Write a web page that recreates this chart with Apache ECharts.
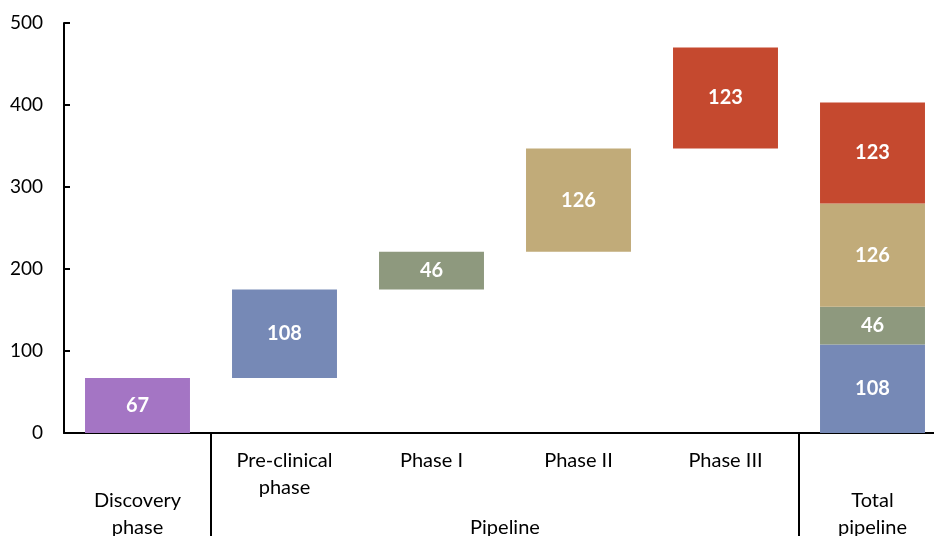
<!DOCTYPE html>
<html>
<head>
<meta charset="utf-8">
<script src="https://cdn.jsdelivr.net/npm/echarts@6/dist/echarts.min.js"></script>
<style>
  html, body { margin: 0; padding: 0; background: #ffffff; }
  #chart { width: 934px; height: 536px; }
</style>
</head>
<body>
<div id="chart"></div>
<script>
// Drug development pipeline: number of compounds per stage
const categories = ['Discovery\nphase', 'Pre-clinical\nphase', 'Phase I', 'Phase II', 'Phase III', 'Total\npipeline'];
// 1 = label directly under the axis, 2 = label on the lower row
const labelRow = [2, 1, 1, 1, 1, 2];
const groupLabel = 'Pipeline';

const discovery = 67;
const stageNames = ['Pre-clinical', 'Phase I', 'Phase II', 'Phase III'];
const stageValues = [108, 46, 126, 123];
const stageColors = ['#7689b6', '#8e997e', '#c1ab79', '#c5492f'];
const discoveryColor = '#a475c4';
const yTicks = { min: 0, max: 500, interval: 100 };

const FONT = 'Lato';
const n = categories.length;
const totalIdx = n - 1;

// invisible offsets that lift each floating bar to its running total
const base = new Array(n).fill(0);
let running = discovery;
stageValues.forEach((v, i) => { base[i + 1] = running; running += v; });
base[0] = 0;
base[totalIdx] = 0;

const labelStyle = {
  show: true,
  position: 'inside',
  color: '#ffffff',
  fontFamily: FONT,
  fontWeight: 'bold',
  fontSize: 20
};

const series = [
  {
    name: 'base', type: 'bar', stack: 'w', barCategoryGap: '28.6%',
    itemStyle: { color: 'transparent' }, silent: true,
    data: base
  },
  {
    name: 'Discovery', type: 'bar', stack: 'w',
    itemStyle: { color: discoveryColor },
    label: labelStyle,
    data: categories.map((c, i) => (i === 0 ? discovery : '-'))
  }
];
stageValues.forEach((v, s) => {
  series.push({
    name: stageNames[s], type: 'bar', stack: 'w',
    itemStyle: { color: stageColors[s] },
    label: labelStyle,
    data: categories.map((c, i) => (i === s + 1 || i === totalIdx ? v : '-'))
  });
});

const axisText = { fontFamily: FONT, fontSize: 20, color: '#000000', lineHeight: 27 };

const chart = echarts.init(document.getElementById('chart'), null, { renderer: 'canvas' });
chart.setOption({
  animation: false,
  grid: { left: 64, top: 23, width: 882, height: 410, containLabel: false, outerBoundsMode: 'none' },
  xAxis: [
    {
      type: 'category', data: categories, position: 'bottom',
      axisLine: { show: true, lineStyle: { color: '#000', width: 2 } },
      axisTick: {
        show: true, length: 110, inside: false,
        interval: (idx) => idx === 1 || idx === totalIdx,
        lineStyle: { color: '#000', width: 2 }
      },
      axisLabel: Object.assign({
        interval: 0, margin: 14,
        formatter: (v, i) => (labelRow[i] === 1 ? v : '')
      }, axisText),
      splitLine: { show: false }
    },
    {
      type: 'category', data: categories, position: 'bottom',
      axisLine: { show: false }, axisTick: { show: false },
      axisLabel: Object.assign({
        interval: 0, margin: 54,
        formatter: (v, i) => (labelRow[i] === 2 ? v : '')
      }, axisText),
      splitLine: { show: false }
    },
    {
      type: 'value', min: 0, max: n, interval: 3, position: 'bottom',
      axisLine: { show: false }, axisTick: { show: false },
      axisLabel: Object.assign({
        margin: 81, showMinLabel: true, showMaxLabel: false,
        formatter: (v) => (v === 3 ? groupLabel : '')
      }, axisText),
      splitLine: { show: false }
    }
  ],
  yAxis: {
    type: 'value', min: yTicks.min, max: yTicks.max, interval: yTicks.interval,
    axisLine: { show: true, lineStyle: { color: '#000', width: 2 } },
    axisTick: { show: true, inside: true, length: 6, lineStyle: { color: '#000', width: 2 } },
    axisLabel: { fontFamily: FONT, fontSize: 19, color: '#000', margin: 21 },
    splitLine: { show: false }
  },
  series: series
});
</script>
</body>
</html>
